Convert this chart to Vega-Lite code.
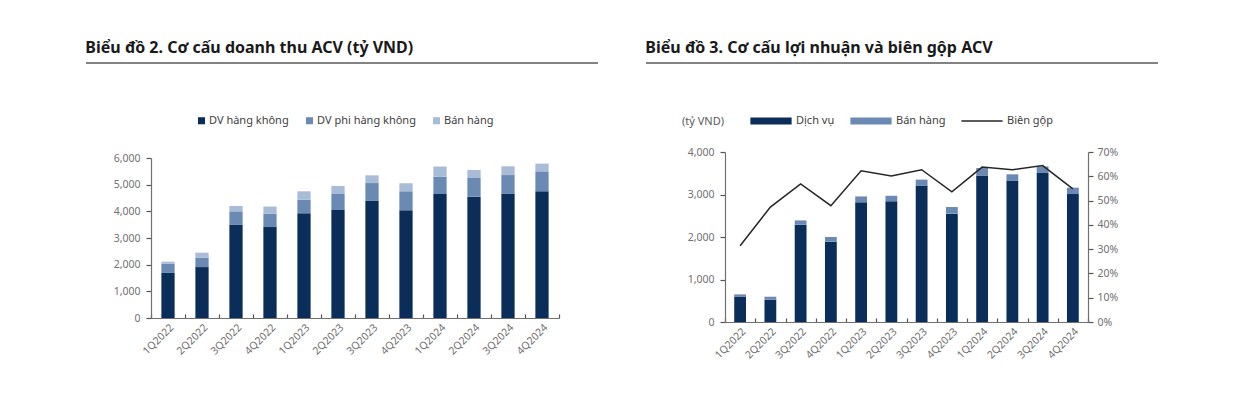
{
  "$schema": "https://vega.github.io/schema/vega-lite/v6.json",
  "background": "white",
  "padding": {"left": 84, "top": 40, "right": 0, "bottom": 0},
  "config": {
    "font": "Noto Sans",
    "view": {"stroke": null},
    "axis": {"labelFont": "Noto Sans", "labelFontSize": 10.5, "labelColor": "#707070", "domainColor": "#707070", "tickColor": "#555555", "grid": false, "domainWidth": 1.2, "tickWidth": 1.2},
    "legend": {"labelFont": "Noto Sans", "labelFontSize": 11, "labelColor": "#404040", "titleFont": "Noto Sans"}
  },
  "datasets": {
    "rev": [
      {"q": "1Q2022", "seg": "DV hàng không", "v": 1690}, {"q": "1Q2022", "seg": "DV phi hàng không", "v": 350}, {"q": "1Q2022", "seg": "Bán hàng", "v": 70},
      {"q": "2Q2022", "seg": "DV hàng không", "v": 1910}, {"q": "2Q2022", "seg": "DV phi hàng không", "v": 350}, {"q": "2Q2022", "seg": "Bán hàng", "v": 190},
      {"q": "3Q2022", "seg": "DV hàng không", "v": 3510}, {"q": "3Q2022", "seg": "DV phi hàng không", "v": 490}, {"q": "3Q2022", "seg": "Bán hàng", "v": 200},
      {"q": "4Q2022", "seg": "DV hàng không", "v": 3410}, {"q": "4Q2022", "seg": "DV phi hàng không", "v": 505}, {"q": "4Q2022", "seg": "Bán hàng", "v": 265},
      {"q": "1Q2023", "seg": "DV hàng không", "v": 3925}, {"q": "1Q2023", "seg": "DV phi hàng không", "v": 515}, {"q": "1Q2023", "seg": "Bán hàng", "v": 310},
      {"q": "2Q2023", "seg": "DV hàng không", "v": 4050}, {"q": "2Q2023", "seg": "DV phi hàng không", "v": 600}, {"q": "2Q2023", "seg": "Bán hàng", "v": 300},
      {"q": "3Q2023", "seg": "DV hàng không", "v": 4410}, {"q": "3Q2023", "seg": "DV phi hàng không", "v": 650}, {"q": "3Q2023", "seg": "Bán hàng", "v": 290},
      {"q": "4Q2023", "seg": "DV hàng không", "v": 4040}, {"q": "4Q2023", "seg": "DV phi hàng không", "v": 710}, {"q": "4Q2023", "seg": "Bán hàng", "v": 300},
      {"q": "1Q2024", "seg": "DV hàng không", "v": 4650}, {"q": "1Q2024", "seg": "DV phi hàng không", "v": 650}, {"q": "1Q2024", "seg": "Bán hàng", "v": 380},
      {"q": "2Q2024", "seg": "DV hàng không", "v": 4550}, {"q": "2Q2024", "seg": "DV phi hàng không", "v": 700}, {"q": "2Q2024", "seg": "Bán hàng", "v": 300},
      {"q": "3Q2024", "seg": "DV hàng không", "v": 4665}, {"q": "3Q2024", "seg": "DV phi hàng không", "v": 695}, {"q": "3Q2024", "seg": "Bán hàng", "v": 330},
      {"q": "4Q2024", "seg": "DV hàng không", "v": 4750}, {"q": "4Q2024", "seg": "DV phi hàng không", "v": 750}, {"q": "4Q2024", "seg": "Bán hàng", "v": 290}
    ],
    "profit": [
      {"q": "1Q2022", "seg": "Dịch vụ", "v": 600}, {"q": "1Q2022", "seg": "Bán hàng", "v": 50},
      {"q": "2Q2022", "seg": "Dịch vụ", "v": 525}, {"q": "2Q2022", "seg": "Bán hàng", "v": 70},
      {"q": "3Q2022", "seg": "Dịch vụ", "v": 2290}, {"q": "3Q2022", "seg": "Bán hàng", "v": 100},
      {"q": "4Q2022", "seg": "Dịch vụ", "v": 1890}, {"q": "4Q2022", "seg": "Bán hàng", "v": 110},
      {"q": "1Q2023", "seg": "Dịch vụ", "v": 2815}, {"q": "1Q2023", "seg": "Bán hàng", "v": 140},
      {"q": "2Q2023", "seg": "Dịch vụ", "v": 2840}, {"q": "2Q2023", "seg": "Bán hàng", "v": 130},
      {"q": "3Q2023", "seg": "Dịch vụ", "v": 3210}, {"q": "3Q2023", "seg": "Bán hàng", "v": 140},
      {"q": "4Q2023", "seg": "Dịch vụ", "v": 2550}, {"q": "4Q2023", "seg": "Bán hàng", "v": 155},
      {"q": "1Q2024", "seg": "Dịch vụ", "v": 3450}, {"q": "1Q2024", "seg": "Bán hàng", "v": 175},
      {"q": "2Q2024", "seg": "Dịch vụ", "v": 3330}, {"q": "2Q2024", "seg": "Bán hàng", "v": 145},
      {"q": "3Q2024", "seg": "Dịch vụ", "v": 3505}, {"q": "3Q2024", "seg": "Bán hàng", "v": 155},
      {"q": "4Q2024", "seg": "Dịch vụ", "v": 3010}, {"q": "4Q2024", "seg": "Bán hàng", "v": 150}
    ],
    "margin": [
      {"q": "1Q2022", "m": 0.314}, {"q": "2Q2022", "m": 0.473}, {"q": "3Q2022", "m": 0.569}, {"q": "4Q2022", "m": 0.479},
      {"q": "1Q2023", "m": 0.623}, {"q": "2Q2023", "m": 0.601}, {"q": "3Q2023", "m": 0.627}, {"q": "4Q2023", "m": 0.536},
      {"q": "1Q2024", "m": 0.638}, {"q": "2Q2024", "m": 0.627}, {"q": "3Q2024", "m": 0.644}, {"q": "4Q2024", "m": 0.548}
    ]
  },
  "spacing": 45,
  "resolve": {"scale": {"color": "independent"}, "legend": {"color": "independent"}},
  "hconcat": [
    {
      "columns": 2,
      "align": "none",
      "spacing": {"row": 51, "column": 0},
      "resolve": {"scale": {"color": "independent"}, "legend": {"color": "independent"}},
      "concat": [
        {"width": 1, "height": 1, "data": {"values": []}, "mark": "point"},
        {
          "width": 512, "height": 1,
          "title": {"text": "Biểu đồ 2. Cơ cấu doanh thu ACV (tỷ VND)", "anchor": "start", "fontSize": 16, "fontWeight": "bold", "color": "#1a1a1a", "offset": 6},
          "data": {"values": [{"k": 0}]},
          "mark": {"type": "rule", "color": "#5a5a5a", "strokeWidth": 1.3},
          "encoding": {"y": {"datum": 0, "scale": {"domain": [0, 1]}, "axis": null}}
        },
        {"width": 1, "height": 1, "data": {"values": []}, "mark": "point"},
        {
          "width": 408, "height": 160,
          "data": {"name": "rev"},
          "mark": {"type": "bar", "width": {"band": 0.39}},
          "encoding": {
            "x": {"field": "q", "type": "ordinal", "sort": null, "scale": {"paddingInner": 0, "paddingOuter": 0},
                  "axis": {"title": null, "labelAngle": -45, "tickBand": "extent", "tickSize": -4, "labelPadding": 8}},
            "y": {"field": "v", "type": "quantitative", "stack": "zero", "scale": {"domain": [0, 6000]},
                  "axis": {"title": null, "values": [0, 1000, 2000, 3000, 4000, 5000, 6000], "format": ",.0f", "tickSize": 5, "labelPadding": 6, "minExtent": 66}},
            "color": {"field": "seg", "type": "nominal", "sort": ["DV hàng không", "DV phi hàng không", "Bán hàng"],
                      "scale": {"domain": ["DV hàng không", "DV phi hàng không", "Bán hàng"], "range": ["#0b2d5a", "#6a8ab4", "#a8bcd7"]},
                      "legend": {"title": null, "orient": "none", "legendX": 45, "legendY": -43, "direction": "horizontal", "symbolType": "square", "symbolSize": 50, "symbolStrokeWidth": 0, "labelOffset": 2, "columnPadding": 15}},
            "order": {"field": "v", "sort": "descending"}
          }
        }
      ]
    },
    {
      "columns": 2,
      "align": "none",
      "spacing": {"row": 36, "column": 0},
      "resolve": {"scale": {"color": "independent"}, "legend": {"color": "independent"}},
      "concat": [
        {"width": 1, "height": 1, "data": {"values": []}, "mark": "point"},
        {
          "width": 512, "height": 1,
          "title": {"text": "Biểu đồ 3. Cơ cấu lợi nhuận và biên gộp ACV", "anchor": "start", "fontSize": 16, "fontWeight": "bold", "color": "#1a1a1a", "offset": 6},
          "data": {"values": [{"k": 0}]},
          "mark": {"type": "rule", "color": "#5a5a5a", "strokeWidth": 1.3},
          "encoding": {"y": {"datum": 0, "scale": {"domain": [0, 1]}, "axis": null}}
        },
        {"width": 1, "height": 1, "data": {"values": []}, "mark": "point"},
        {
          "width": 363, "height": 170,
          "layer": [
            {
              "data": {"name": "profit"},
              "mark": {"type": "bar", "width": {"band": 0.39}},
              "encoding": {
                "x": {"field": "q", "type": "ordinal", "sort": null, "scale": {"paddingInner": 0, "paddingOuter": 0},
                      "axis": {"title": null, "labelAngle": -45, "tickBand": "extent", "tickSize": -4, "labelPadding": 8}},
                "y": {"field": "v", "type": "quantitative", "stack": "zero", "scale": {"domain": [0, 4000]},
                      "axis": {"title": null, "values": [0, 1000, 2000, 3000, 4000], "format": ",.0f", "tickSize": 5, "labelPadding": 6, "minExtent": 80}},
                "color": {"field": "seg", "type": "nominal", "sort": ["Dịch vụ", "Bán hàng", "Biên gộp"],
                          "scale": {"domain": ["Dịch vụ", "Bán hàng", "Biên gộp"], "range": ["#0b2d5a", "#6a8ab4", "#262626"]},
                          "legend": {"title": "(tỷ VND)", "titleOrient": "left", "titleAnchor": "middle", "titleFontSize": 11, "titleFontWeight": "normal", "titleColor": "#595959", "titlePadding": 25,
                                     "orient": "none", "legendX": -43, "legendY": -52, "direction": "horizontal", "symbolSize": 1700, "symbolStrokeWidth": 0, "labelOffset": 4, "columnPadding": 15,
                                     "encode": {"title": {"update": {"dy": {"value": 9}}},
                                                "symbols": {"update": {"shape": {"signal": "datum.label === 'Biên gộp' ? 'M-1,-0.035H1V0.035H-1Z' : 'M-1,-0.17H1V0.17H-1Z'"}}}}}},
                "order": {"field": "v", "sort": "descending"}
              }
            },
            {
              "data": {"name": "margin"},
              "mark": {"type": "line", "strokeWidth": 1.5},
              "encoding": {
                "x": {"field": "q", "type": "ordinal", "sort": null},
                "y": {"field": "m", "type": "quantitative", "scale": {"domain": [0, 0.7]},
                      "axis": {"title": null, "orient": "right", "values": [0, 0.1, 0.2, 0.3, 0.4, 0.5, 0.6, 0.7], "format": ".0%", "tickSize": 5, "labelPadding": 4}},
                "color": {"datum": "Biên gộp"}
              }
            }
          ],
          "resolve": {"scale": {"y": "independent"}}
        }
      ]
    }
  ]
}
